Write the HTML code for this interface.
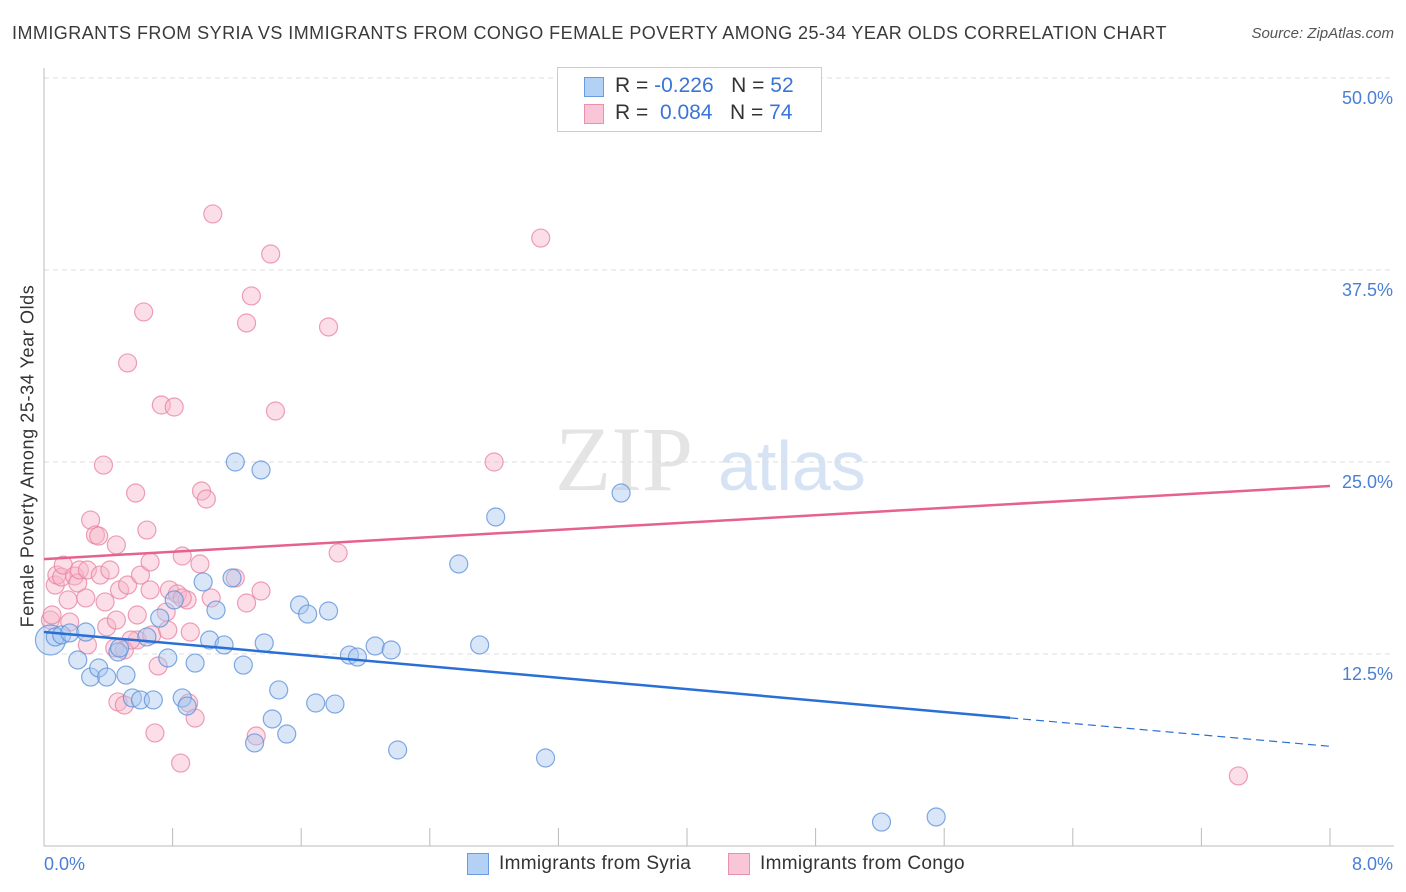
<!DOCTYPE html>
<html><head><meta charset="utf-8"><style>
body{margin:0;background:#fff;font-family:"Liberation Sans",sans-serif;}
#wrap{position:relative;width:1406px;height:892px;overflow:hidden;}
.t{position:absolute;white-space:nowrap;}
</style></head><body>
<div id="wrap">
<div class="t" style="left:12px;top:23px;font-size:18px;letter-spacing:0.45px;color:#3a3a3a;">IMMIGRANTS FROM SYRIA VS IMMIGRANTS FROM CONGO FEMALE POVERTY AMONG 25-34 YEAR OLDS CORRELATION CHART</div>
<div class="t" style="right:12px;top:25px;font-size:15px;font-style:italic;color:#555;">Source: ZipAtlas.com</div>
<div class="t" style="left:28px;top:456px;font-size:18px;letter-spacing:0.6px;color:#333;transform:translate(-50%,-50%) rotate(-90deg);">Female Poverty Among 25-34 Year Olds</div>
<svg id="chart" width="1406" height="892" style="position:absolute;left:0;top:0"></svg>
<div style="position:absolute;left:557px;top:67px;width:263px;height:63px;border:1px solid #ccc;background:#fff;">
 <div style="position:absolute;left:26px;top:9px;width:18px;height:18px;background:#b3d0f5;border:1px solid #6a9ae0;"></div>
 <div class="t" style="left:57px;top:6px;font-size:21px;color:#333;">R = <span style="color:#3a75d6">-0.226</span>&nbsp;&nbsp;&nbsp;N = <span style="color:#3a75d6">52</span></div>
 <div style="position:absolute;left:26px;top:36px;width:18px;height:18px;background:#f8c6d6;border:1px solid #e890ae;"></div>
 <div class="t" style="left:57px;top:33px;font-size:21px;color:#333;">R = &nbsp;<span style="color:#3a75d6">0.084</span>&nbsp;&nbsp;&nbsp;N = <span style="color:#3a75d6">74</span></div>
</div>
<div style="position:absolute;left:467px;top:853px;">
 <div style="position:absolute;left:0;top:0;width:20px;height:20px;background:#b3d0f5;border:1px solid #6a9ae0;"></div>
 <div class="t" style="left:32px;top:0px;font-size:19px;letter-spacing:0.3px;color:#333;">Immigrants from Syria</div></div>
<div style="position:absolute;left:728px;top:853px;">
 <div style="position:absolute;left:0;top:0;width:20px;height:20px;background:#f8c6d6;border:1px solid #e890ae;"></div>
 <div class="t" style="left:32px;top:0px;font-size:19px;letter-spacing:0.3px;color:#333;">Immigrants from Congo</div></div>
</div>
<script>
const yTicks=[12.5,25,37.5,50];
const yTickLabels=["12.5%","25.0%","37.5%","50.0%"];
const xTickLabels=["0.0%","8.0%"];
const syriaX=[0.04,0.07,0.11,0.16,0.26,0.21,0.29,0.34,0.39,0.46,0.47,0.51,0.55,0.60,0.68,0.64,0.72,0.77,0.81,0.86,0.89,0.94,0.99,1.03,1.07,1.12,1.17,1.24,1.19,1.35,1.37,1.46,1.42,1.51,1.31,1.59,1.64,1.69,1.77,1.81,1.90,1.95,2.06,2.16,2.20,2.58,2.71,2.81,3.12,3.59,5.21,5.55];
const syriaY=[13.41,13.61,13.74,13.87,13.93,12.11,11.00,11.59,11.00,12.63,12.89,11.13,9.64,9.51,9.51,13.61,14.84,12.24,16.02,9.64,9.11,11.91,17.19,13.41,15.36,13.09,17.45,11.78,25.00,24.48,13.22,10.16,8.27,7.29,6.71,15.69,15.10,9.31,15.30,9.24,12.43,12.30,13.02,12.76,6.25,18.36,13.09,21.42,5.73,22.98,1.56,1.89];
const congoX=[0.04,0.05,0.07,0.08,0.11,0.12,0.15,0.16,0.19,0.21,0.22,0.26,0.27,0.29,0.32,0.34,0.35,0.37,0.38,0.39,0.41,0.44,0.45,0.46,0.47,0.50,0.52,0.52,0.57,0.58,0.58,0.60,0.62,0.64,0.66,0.66,0.67,0.69,0.71,0.73,0.76,0.77,0.78,0.81,0.83,0.86,0.89,0.90,0.91,0.94,0.97,0.98,1.01,1.04,1.05,1.19,1.26,1.26,1.29,1.32,1.35,1.41,1.44,1.77,1.83,2.80,3.09,7.43,0.50,0.86,0.45,0.27,0.54,0.85];
const congoY=[14.71,15.04,16.99,17.64,17.51,18.29,16.02,14.58,17.58,17.12,17.97,16.15,17.97,21.22,20.25,20.18,17.64,24.80,15.89,14.26,17.97,12.89,14.71,9.38,16.67,12.76,16.99,31.45,22.98,15.04,13.41,17.64,34.77,20.57,16.67,18.49,13.74,7.36,11.72,28.71,15.23,14.06,16.67,28.58,16.41,18.88,16.02,9.31,13.93,8.33,18.36,23.11,22.59,16.15,41.15,17.45,34.05,15.82,35.81,7.16,16.60,38.54,28.32,33.79,19.08,25.00,39.58,4.56,9.18,16.15,19.60,13.09,13.41,5.40];
const syriaTrend=[13.93,6.49];   // y at x=0 and x=8
const syriaSolidEnd=6.01;
const congoTrend=[18.68,23.44];

const NS="http://www.w3.org/2000/svg";
const svg=document.getElementById('chart');
const X0=44,X1=1330,Y0=846,Y50=78;
const sx=v=>X0+(X1-X0)*v/8;
const sy=v=>Y0-(Y0-Y50)*v/50;
function mk(t,a){const e=document.createElementNS(NS,t);for(const k in a)e.setAttribute(k,a[k]);svg.appendChild(e);return e;}
let w=mk('text',{x:555,y:490,'font-size':92,'font-family':'Liberation Serif, serif',fill:'#e4e4e4'});w.textContent='ZIP';


let w2=mk('text',{x:718,y:490,'font-size':70,'font-family':'Liberation Sans, sans-serif',fill:'#d6e3f4'});w2.textContent='atlas';


yTicks.forEach((v,i)=>{
 const g=mk('line',{x1:X0,x2:1394,y1:sy(v),y2:sy(v),stroke:'#dcdcdc','stroke-dasharray':'5,4'});
 
 
 const t=mk('text',{x:1393,y:sy(v)+26,'text-anchor':'end','font-size':18,fill:'#4a7fd4','font-family':'Liberation Sans, sans-serif'});
 t.textContent=yTickLabels[i];
 
 
});
mk('line',{x1:X0,x2:X0,y1:68,y2:Y0,stroke:'#bbb'});
mk('line',{x1:X0,x2:1394,y1:Y0,y2:Y0,stroke:'#bbb'});
for(let i=0;i<=10;i++){const l=mk('line',{x1:sx(i*0.8),x2:sx(i*0.8),y1:Y0,y2:Y0-18,stroke:'#bbb'});
 }
xTickLabels.forEach((s,i)=>{const t=mk('text',{x:i?1393:44,y:870,'text-anchor':i?'end':'start','font-size':18,fill:'#4a7fd4','font-family':'Liberation Sans, sans-serif'});t.textContent=s;
 
 });
function dots(xs,ys,fill,stroke,name){xs.forEach((x,i)=>{const c=mk('circle',{cx:sx(x),cy:sy(ys[i]),r:i===0&&name==='syria-point'?15:9,fill:fill,'fill-opacity':0.45,stroke:stroke,'stroke-opacity':0.75,'stroke-width':1.2});
 
 });}
dots(congoX,congoY,'#f6b6ca','#e8809f','congo-point');
dots(syriaX,syriaY,'#a9c7f0','#5a8ed8','syria-point');
const ys=x=>syriaTrend[0]+(syriaTrend[1]-syriaTrend[0])*x/8;
let l1=mk('line',{x1:sx(0),y1:sy(ys(0)),x2:sx(syriaSolidEnd),y2:sy(ys(syriaSolidEnd)),stroke:'#2a6fd6','stroke-width':2.5});

let l2=mk('line',{x1:sx(syriaSolidEnd),y1:sy(ys(syriaSolidEnd)),x2:sx(8),y2:sy(ys(8)),stroke:'#2a6fd6','stroke-width':1.2,'stroke-dasharray':'8,5'});

let l3=mk('line',{x1:sx(0),y1:sy(congoTrend[0]),x2:sx(8),y2:sy(congoTrend[1]),stroke:'#e6628e','stroke-width':2.5});

</script>
</body></html>
